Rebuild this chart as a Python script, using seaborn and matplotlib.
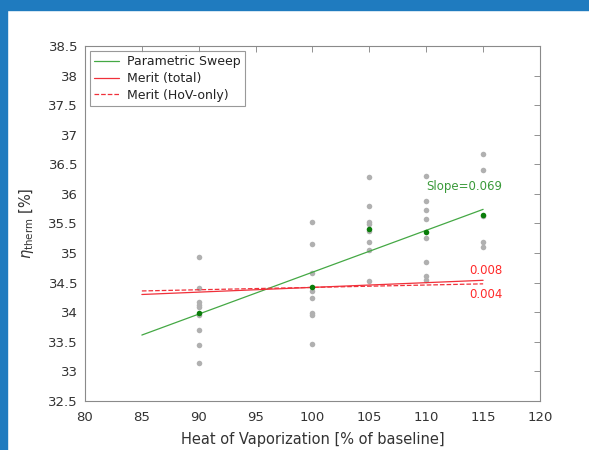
import numpy as np
import pandas as pd
import seaborn as sns
import matplotlib.pyplot as plt
from matplotlib.patches import Rectangle

# Heat of vaporization levels [% of baseline] and the sweep results at each level
hov_levels = [90, 100, 105, 110, 115]
eta_90 = [34.93, 34.41, 34.17, 34.13, 34.09, 33.95, 33.70, 33.45, 33.15]
eta_100 = [35.53, 35.15, 34.67, 34.36, 34.24, 33.98, 33.95, 33.46]
eta_105 = [36.28, 35.80, 35.52, 35.49, 35.38, 35.19, 35.05, 34.52]
eta_110 = [36.31, 35.88, 35.73, 35.57, 35.26, 34.85, 34.62, 34.55]
eta_115 = [36.67, 36.40, 35.62, 35.18, 35.10]
eta_mean = [33.98, 34.42, 35.40, 35.36, 35.64]

# merit lines (endpoints)
merit_x = [85, 115]
merit_total = [34.30, 34.54]
merit_hov = [34.36, 34.48]

sweep = pd.DataFrame({
    'hov': np.repeat(hov_levels, [len(eta_90), len(eta_100), len(eta_105), len(eta_110), len(eta_115)]),
    'eta': eta_90 + eta_100 + eta_105 + eta_110 + eta_115,
})
means = pd.DataFrame({'hov': hov_levels, 'eta': eta_mean})

# linear fit through the mean points
slope, icpt = np.polyfit(hov_levels, eta_mean, 1)
fit = pd.DataFrame({'hov': merit_x, 'eta': [icpt + slope * x for x in merit_x]})
merit = pd.DataFrame({'hov': merit_x, 'total': merit_total, 'hovonly': merit_hov})

sns.set_style('white')
fig = plt.figure(figsize=(5.89, 4.5), dpi=100)
ax = fig.add_axes([0.1443, 0.1089, 0.7725, 0.7889])

sns.scatterplot(x='hov', y='eta', data=sweep, color='#b0b0b0', s=16, linewidth=0, ax=ax, legend=False, zorder=2)
sns.lineplot(x='hov', y='eta', data=fit, color='#44a844', linewidth=0.9, ax=ax, label='Parametric Sweep', zorder=3)
sns.lineplot(x='hov', y='total', data=merit, color='#f0303a', linewidth=0.9, ax=ax, label='Merit (total)', zorder=3)
sns.lineplot(x='hov', y='hovonly', data=merit, color='#f0303a', linewidth=0.9, linestyle='--', ax=ax,
             label='Merit (HoV-only)', zorder=3)
sns.scatterplot(x='hov', y='eta', data=means, color='#0a7d0a', s=16, linewidth=0, ax=ax, legend=False, zorder=4)

ax.text(110, 36.13, 'Slope=0.069', color='#3a9a3a', fontsize=8.5, va='center', ha='left')
ax.text(113.8, 34.71, '0.008', color='#ff2a2a', fontsize=8.5, va='center', ha='left')
ax.text(113.8, 34.30, '0.004', color='#ff2a2a', fontsize=8.5, va='center', ha='left')

ax.set_xlim(80, 120)
ax.set_ylim(32.5, 38.5)
ax.set_xticks(np.arange(80, 121, 5))
yt = np.arange(32.5, 38.51, 0.5)
ax.set_yticks(yt)
ax.set_yticklabels([('%g' % v) for v in yt])
ax.tick_params(direction='in', length=4, width=0.6, color='#808080', labelcolor='#333333', labelsize=9.5,
               top=True, right=True)
ax.tick_params(axis='x', pad=7)
ax.tick_params(axis='y', pad=5)
for s in ax.spines.values():
    s.set_color('#8a8a8a')
    s.set_linewidth(0.8)

ax.set_xlabel('Heat of Vaporization [% of baseline]', fontsize=10.5, color='#333333', labelpad=6)
ax.set_ylabel(r'$\eta_{\mathrm{therm}}$ [%]', fontsize=10.5, color='#333333', labelpad=9)

leg = ax.legend(loc='upper left', fontsize=9, frameon=True, fancybox=False, borderpad=0.35,
                labelspacing=0.3, handlelength=2.0, handletextpad=0.6, borderaxespad=0.4)
leg.get_frame().set_edgecolor('#808080')
leg.get_frame().set_linewidth(0.8)
for t in leg.get_texts():
    t.set_color('#222222')

# blue slide border on top and left
fig.patches.append(Rectangle((0, 1 - 10 / 450), 1, 10 / 450, transform=fig.transFigure, color='#1f7bbf', zorder=0))
fig.patches.append(Rectangle((0, 0), 7 / 589, 1, transform=fig.transFigure, color='#1f7bbf', zorder=0))

plt.savefig('out.png', dpi=100)
